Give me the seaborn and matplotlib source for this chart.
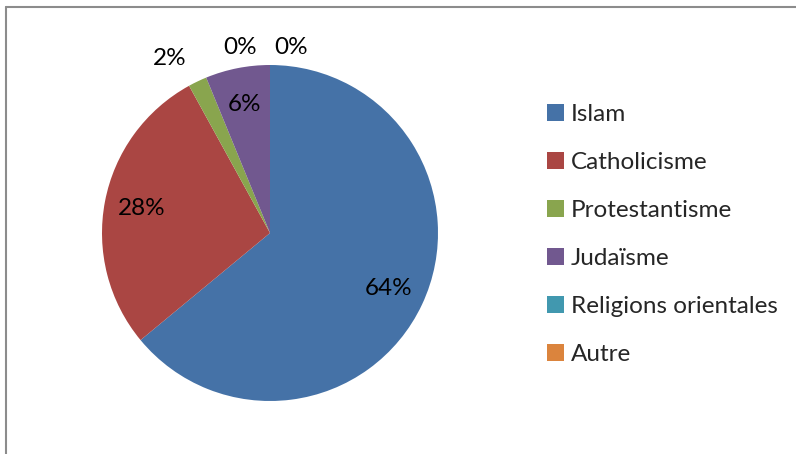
import matplotlib
matplotlib.use("Agg")
import matplotlib.pyplot as plt
import seaborn as sns
import numpy as np
from matplotlib.lines import Line2D

# data
religions = ["Islam", "Catholicisme", "Protestantisme", "Judaïsme",
             "Religions orientales", "Autre"]
shares = [64.0, 28.0, 1.8, 6.2, 0.0, 0.0]
pct_labels = ["64%", "28%", "2%", "6%", "0%", "0%"]
colors = ["#4572A7", "#AA4643", "#89A54E", "#71588F", "#4198AF", "#DB843D"]

sns.set_theme(style="white")
plt.rcParams["font.family"] = ["Lato", "DejaVu Sans"]

fig = plt.figure(figsize=(7.96, 4.54), dpi=100)
W, H = 796, 454
ax = fig.add_axes([102 / W, 53 / H, 336 / W, 336 / H])

wedges, _ = ax.pie(shares, colors=colors, startangle=90, counterclock=False,
                   radius=1.0, wedgeprops=dict(linewidth=0))
ax.set_xlim(-1, 1)
ax.set_ylim(-1, 1)
ax.set_aspect("equal")
ax.axis("off")

# percentage labels: big slices inside, small ones outside, zero ones beside the top
zero_side = -1
for w, lab, val in zip(wedges, pct_labels, shares):
    mid = np.deg2rad((w.theta1 + w.theta2) / 2)
    ha = "center"
    if val >= 5:
        x, y = 0.78 * np.cos(mid), 0.78 * np.sin(mid)
    elif val > 0:
        x, y = 1.15 * np.cos(mid), 1.15 * np.sin(mid)
        ha = "right"
    else:
        x = -0.179 if zero_side < 0 else 0.125
        y = 1.107
        zero_side = -zero_side
    ax.text(x, y, lab, ha=ha, va="center", fontsize=17.5, color="black",
            clip_on=False)

# legend
handles = [plt.Rectangle((0, 0), 1, 1, facecolor=c, edgecolor="none") for c in colors]
fig.legend(handles, religions, loc="upper left", bbox_to_anchor=(547 / W, 1 - 104 / H),
           frameon=False, fontsize=17.5, handlelength=0.68, handleheight=0.68,
           handletextpad=0.3, labelspacing=1.11, borderaxespad=0, borderpad=0)

# frame lines (top and left only)
fig.add_artist(Line2D([5.5 / W, 1], [1 - 7 / H, 1 - 7 / H], transform=fig.transFigure,
                      color="#8c8c8c", linewidth=1.5))
fig.add_artist(Line2D([5.5 / W, 5.5 / W], [0, 1 - 7 / H], transform=fig.transFigure,
                      color="#8c8c8c", linewidth=1.5))

fig.savefig("out.png", dpi=100, facecolor="white")
